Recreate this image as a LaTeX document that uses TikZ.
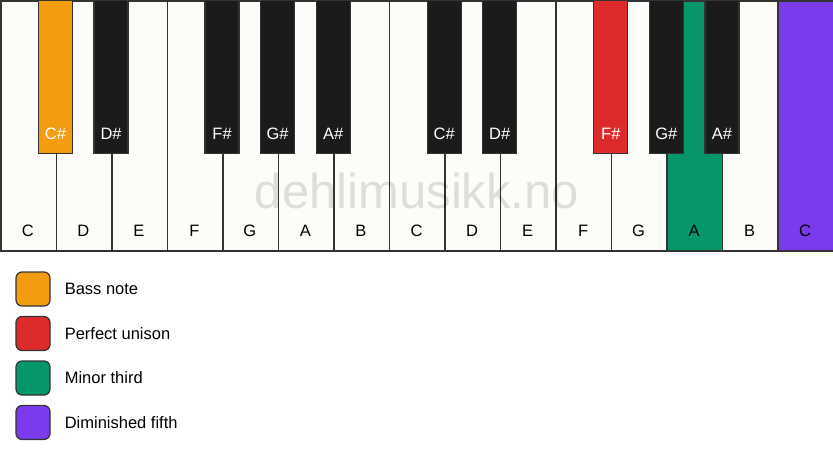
\documentclass[tikz,border=0pt]{standalone}
\usepackage{fontspec}
\setmainfont{Liberation Sans}
\definecolor{keywhite}{HTML}{FDFCF9}
\definecolor{keyblack}{HTML}{1B1B1B}
\definecolor{keyline}{HTML}{333333}
\definecolor{bass}{HTML}{F39C12}
\definecolor{unison}{HTML}{DD2A2A}
\definecolor{minthird}{HTML}{05976A}
\definecolor{dimfifth}{HTML}{7B3AEB}

\begin{document}
\begin{tikzpicture}[x=1pt,y=-1pt]
\tikzstyle{every node}=[inner sep=0pt,font=\fontsize{16.5}{20}\selectfont];
\tikzstyle{whitekey}=[draw=keyline,line width=1.5pt,rectangle,anchor=north west,minimum width=55.53pt,minimum height=250pt];
\tikzstyle{blackkey}=[draw=keyline,line width=1.3pt,rectangle,anchor=north,minimum width=34pt,minimum height=153pt];
\tikzstyle{legendbox}=[draw=keyline,line width=1.2pt,rounded corners=6pt,minimum width=34pt,minimum height=34pt];
\useasboundingbox[fill=white] (0,0) rectangle (833,461);

% white keys
\foreach \n/\c [count=\i from 0] in {C/keywhite,D/keywhite,E/keywhite,F/keywhite,G/keywhite,A/keywhite,B/keywhite,C/keywhite,D/keywhite,E/keywhite,F/keywhite,G/keywhite,A/minthird,B/keywhite,C/dimfifth}
{
	\node[whitekey,fill=\c] (wk\i) at (\i*55.53,0) {};
	\node[anchor=base] (wl\i) at (\i*55.53+27.77,236) {\n};
}

% watermark
\node[anchor=base,text=black,text opacity=0.12,font=\fontsize{49}{58}\selectfont] (mark) at (417,208) {dehlimusikk.no};

% black keys
\foreach \b/\n/\c in {1/C\#/bass,2/D\#/keyblack,4/F\#/keyblack,5/G\#/keyblack,6/A\#/keyblack,8/C\#/keyblack,9/D\#/keyblack,11/F\#/unison,12/G\#/keyblack,13/A\#/keyblack}
{
	\node[blackkey,fill=\c] (bk\b) at (\b*55.53,0) {};
	\node[anchor=base,text=white] (bl\b) at (\b*55.53,139) {\n};
}

% legend
\foreach \c/\t [count=\i] in {bass/Bass note,unison/Perfect unison,minthird/Minor third,dimfifth/Diminished fifth}
{
	\node[legendbox,fill=\c] (leg\i) at (33,244.5+\i*44.5) {};
	\node[anchor=west] (legt\i) at ([xshift=14pt]leg\i.east) {\t};
}
\end{tikzpicture}
\end{document}
